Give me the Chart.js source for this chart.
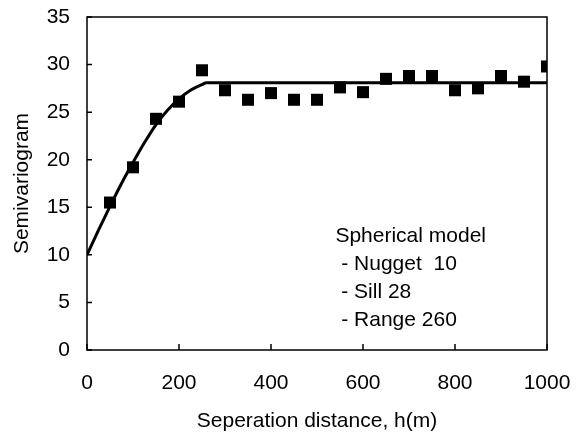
<!DOCTYPE html>
<html><head><meta charset="utf-8">
<script src="https://cdn.jsdelivr.net/npm/chart.js@4/dist/chart.umd.min.js"></script>
<style>html,body{margin:0;padding:0;background:#fff}#wrap{width:578px;height:434px}</style>
</head><body><div id="wrap"><canvas id="c" width="578" height="434"></canvas></div>
<script>
const distances = [50,100,150,200,250,300,350,400,450,500,550,600,650,700,750,800,850,900,950,1000];
const semivariance = [15.5,19.2,24.3,26.1,29.4,27.3,26.3,27.0,26.3,26.3,27.6,27.1,28.5,28.8,28.8,27.3,27.5,28.8,28.2,29.8];
const modelH = [0,25,50,75,100,125,150,175,200,225,250,260,400,600,800,1000];
const modelG = [10,12.6,15.1,17.5,19.7,21.8,23.7,25.2,26.4,27.3,27.9,28.1,28.1,28.1,28.1,28.1];
const xTicks = [0,200,400,600,800,1000];
const yTicks = [0,5,10,15,20,25,30,35];
const annotationLines = ['Spherical model',' - Nugget  10',' - Sill 28',' - Range 260'];
const FONT = 'Arial, "Liberation Sans", sans-serif';

const frame = {
  id:'frame',
  afterDatasetsDraw(chart){
    const {ctx, chartArea:a, scales:{x,y}} = chart;
    ctx.save();
    ctx.strokeStyle='#000';
    ctx.lineWidth=1.5;
    ctx.strokeRect(a.left, a.top, a.right-a.left, a.bottom-a.top);
    ctx.beginPath();
    yTicks.forEach(v=>{const p=y.getPixelForValue(v); ctx.moveTo(a.left,p); ctx.lineTo(a.left+5,p);});
    xTicks.forEach(v=>{const p=x.getPixelForValue(v); ctx.moveTo(p,a.bottom); ctx.lineTo(p,a.bottom-6);});
    ctx.stroke();
    ctx.fillStyle='#000';
    ctx.font='21px '+FONT;
    ctx.textBaseline='middle';
    const x0 = x.getPixelForValue(540);
    const y0 = y.getPixelForValue(11.93);
    annotationLines.forEach((t,i)=>ctx.fillText(t, x0, y0 + i*28));
    ctx.restore();
  }
};

function noOverhang(s){ s.paddingLeft=0; s.paddingRight=0; s.paddingTop=0; s.paddingBottom=0; }

new Chart(document.getElementById('c'), {
  data:{
    datasets:[
      {type:'line', data: modelH.map((h,i)=>({x:h,y:modelG[i]})), borderColor:'#000', borderWidth:3, pointRadius:0, cubicInterpolationMode:'monotone', order:2},
      {type:'scatter', data: distances.map((d,i)=>({x:d,y:semivariance[i]})), pointStyle:'rect', pointRadius:8.5, backgroundColor:'#000', borderWidth:0, order:1}
    ]
  },
  options:{
    responsive:false, animation:false, devicePixelRatio:1,
    layout:{padding:{left:10,top:17,right:31,bottom:0}},
    plugins:{legend:{display:false}, tooltip:{enabled:false}},
    scales:{
      x:{type:'linear', min:0, max:1000,
        afterBuildTicks(s){ s.ticks = xTicks.map(v=>({value:v})); },
        afterFit(s){ s.height = 84; noOverhang(s); },
        grid:{display:false, drawTicks:false}, border:{display:false},
        ticks:{color:'#000', padding:21, font:{size:21, family:FONT}, maxRotation:0, callback:v=>String(v)},
        title:{display:true, text:'Seperation distance, h(m)', color:'#000', font:{size:21, family:FONT}, padding:{top:6,bottom:0}}
      },
      y:{type:'linear', min:0, max:35,
        afterBuildTicks(s){ s.ticks = yTicks.map(v=>({value:v})); },
        afterFit(s){ s.width = 77; noOverhang(s); },
        grid:{display:false, drawTicks:false}, border:{display:false},
        ticks:{color:'#000', padding:17, font:{size:21, family:FONT}, callback:v=>String(v)},
        title:{display:true, text:'Semivariogram', color:'#000', font:{size:21, family:FONT}, padding:{top:0,bottom:0}}
      }
    }
  },
  plugins:[frame]
});
</script></body></html>
